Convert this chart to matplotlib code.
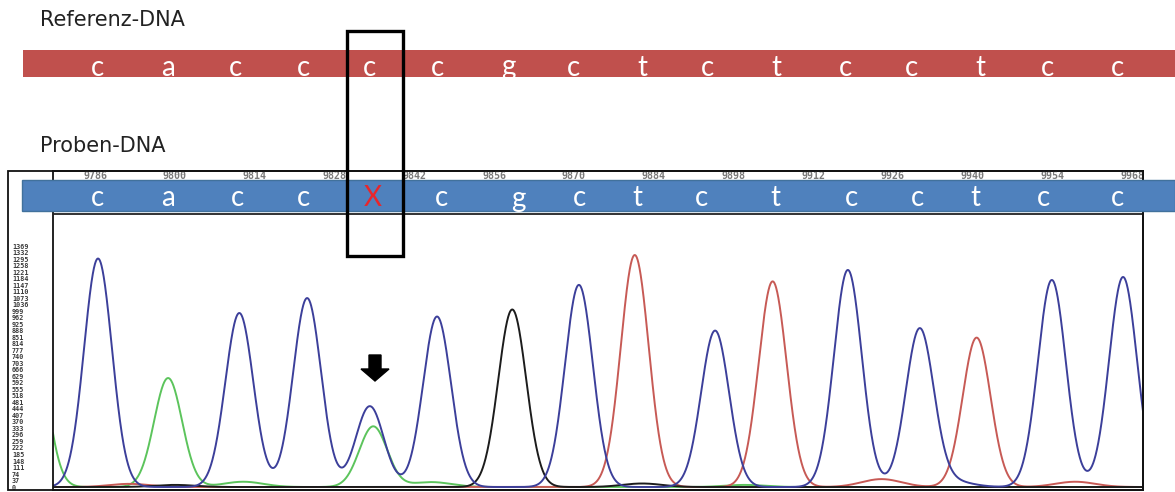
import numpy as np
import matplotlib
matplotlib.use("Agg")
import matplotlib.pyplot as plt
from matplotlib.patches import Rectangle, FancyArrow

# --- data -------------------------------------------------------------
ref_seq = list("caccccgctctcctcc")
sample_seq = ["c", "a", "c", "c", "X", "c", "g", "c", "t", "c", "t", "c", "c", "t", "c", "c"]

# ruler of the trace window (base positions) and intensity scale
pos_ticks = [9786, 9800, 9814, 9828, 9842, 9856, 9870, 9884, 9898, 9912, 9926, 9940, 9954, 9968]
int_ticks = list(range(0, 1370, 37))

# main peaks per channel: position, height
blue_pos = [9786.5, 9811.3, 9823.2, 9834.2, 9846.0, 9870.9, 9894.8, 9918.1, 9930.7, 9953.9, 9966.4]
blue_amp = [1300, 990, 1075, 460, 970, 1150, 890, 1235, 893, 1178, 1195]
green_pos = [9775.0, 9798.8, 9834.8]
green_amp = [900, 620, 345]
black_pos = [9859.2]
black_amp = [1010]
red_pos = [9880.7, 9904.9, 9940.7]
red_amp = [1320, 1170, 850]

# small baseline bumps
bump_green_pos = [9812.0, 9845.0, 9900.0]
bump_green_amp = [30, 28, 12]
bump_red_pos = [9792.0, 9924.0, 9958.0]
bump_red_amp = [18, 45, 30]
bump_black_pos = [9800.0, 9882.0]
bump_black_amp = [12, 20]
bump_blue_pos = [9936.0]
bump_blue_amp = [35]

W, H = 1175, 492


def trace(x, pos, amp, sig):
    y = np.zeros_like(x)
    for p, a in zip(pos, amp):
        y += a * np.exp(-0.5 * ((x - p) / sig) ** 2)
    return y


def main():
    fig = plt.figure(figsize=(W / 100, H / 100), dpi=100)

    # chromatogram panel (pixel box 53..1143 x 171..490)
    ax = fig.add_axes([53 / W, (H - 490) / H, (1143 - 53) / W, (490 - 171) / H])
    ax.set_xlim(9778.6, 9969.9)
    ax.set_ylim(-17, 1798)

    x = np.linspace(9778.6, 9969.9, 4000)
    channels = [
        (green_pos, green_amp, bump_green_pos, bump_green_amp, "#5cc45c"),
        (red_pos, red_amp, bump_red_pos, bump_red_amp, "#c75a55"),
        (black_pos, black_amp, bump_black_pos, bump_black_amp, "#1c1c1c"),
        (blue_pos, blue_amp, bump_blue_pos, bump_blue_amp, "#3c3f9a"),
    ]
    for pos, amp, bpos, bamp, col in channels:
        y = trace(x, pos, amp, 2.45) + trace(x, bpos, bamp, 3.5)
        ax.plot(x, y, color=col, lw=1.4, zorder=2)

    ax.axhline((487 - 214) * 5.69, color="#222222", lw=1.3, zorder=3)

    for p in pos_ticks:
        ax.text(p, 1772, str(p), ha="center", va="center", fontsize=7.2,
                family="DejaVu Sans Mono", fontweight="bold", color="#7a7a7a",
                clip_on=True)

    ax.set_xticks([])
    ax.set_yticks(int_ticks)
    ax.set_yticklabels([str(v) for v in int_ticks], family="DejaVu Sans Mono",
                       fontsize=4.9, fontweight="bold", color="#3a3a3a", ha="left")
    ax.tick_params(axis="y", length=0, pad=29.5)
    for s in ax.spines.values():
        s.set_linewidth(1.3)
        s.set_color("#111111")

    # overlay in pixel coordinates
    cv = fig.add_axes([0, 0, 1, 1], zorder=5)
    cv.set_xlim(0, W)
    cv.set_ylim(H, 0)
    cv.axis("off")

    cv.text(40, 20, "Referenz-DNA", fontsize=15, family="DejaVu Sans",
            color="#222222", va="center", ha="left")
    cv.text(40, 146, "Proben-DNA", fontsize=15, family="DejaVu Sans",
            color="#222222", va="center", ha="left")

    cv.add_patch(Rectangle((23, 50), W - 23, 27, fc="#c0504d", ec="none"))
    ref_x = [98, 168, 235, 303, 370, 437, 508, 574, 642, 708, 776, 845, 912, 980, 1048, 1118]
    for lx, ch in zip(ref_x, ref_seq):
        cv.text(lx, 75.5, ch, fontsize=20, family="Lato", color="white",
                ha="center", va="baseline")

    # outer frame of the trace printout
    cv.add_patch(Rectangle((8, 171), 1143 - 8, 490 - 171, fill=False,
                           ec="#111111", lw=1.3))

    cv.add_patch(Rectangle((22, 180), W - 22, 31, fc="#4f81bd", ec="#41719c", lw=1))
    smp_x = [98, 168, 237, 303, 373, 442, 518, 580, 637, 702, 775, 851, 918, 975, 1043, 1117]
    for lx, ch in zip(smp_x, sample_seq):
        col = "#e8262b" if ch == "X" else "white"
        cv.text(lx, 206.5, ch, fontsize=20, family="Lato", color=col,
                ha="center", va="baseline")

    cv.add_patch(Rectangle((347, 31), 56, 225, fill=False, ec="black", lw=2.4))
    cv.add_patch(FancyArrow(375, 355, 0, 26, width=12, head_width=28,
                            head_length=12, length_includes_head=True,
                            fc="black", ec="black"))

    fig.savefig("out.png", dpi=100)


if __name__ == "__main__":
    main()
